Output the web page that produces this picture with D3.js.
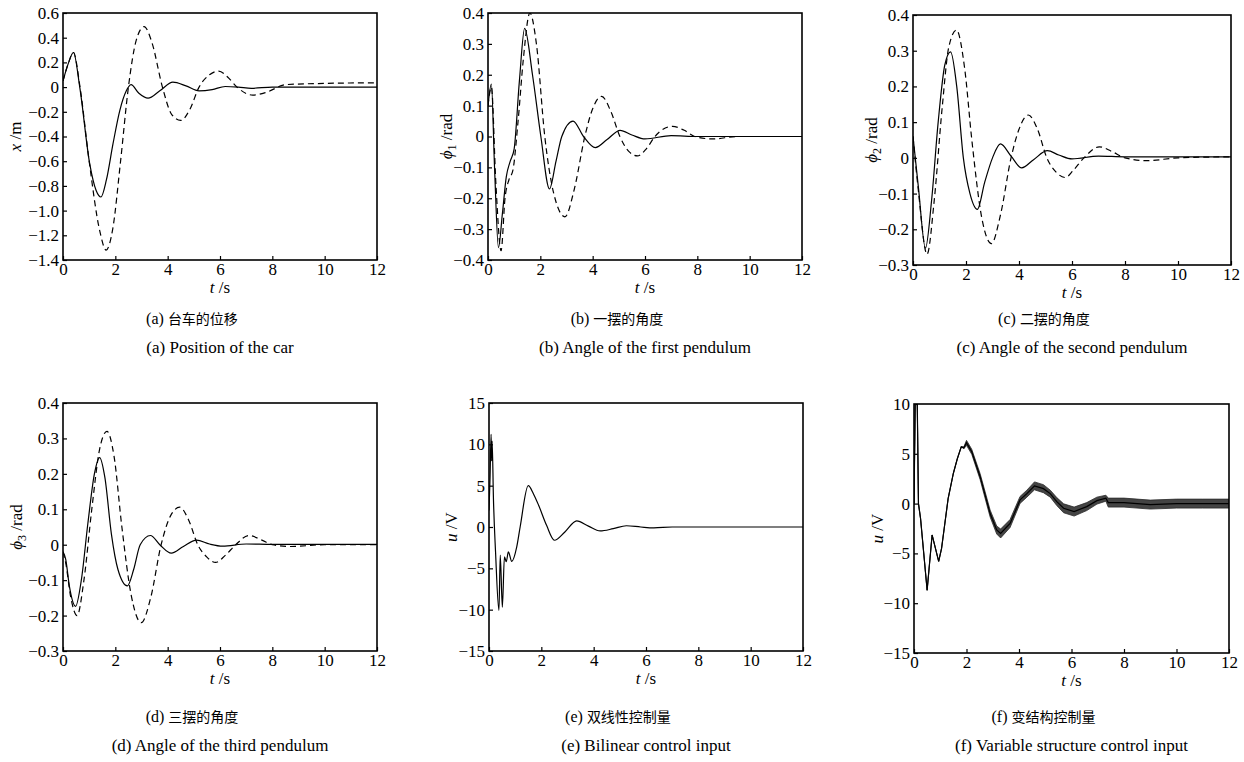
<!DOCTYPE html>
<html>
<head>
<meta charset="utf-8">
<script src="https://cdn.jsdelivr.net/npm/d3@7/dist/d3.min.js"></script>
<style>
  body { margin: 0; background: #fff; }
  svg text { font-family: "Liberation Serif", "DejaVu Serif", serif !important; fill: #000; }
  .tick text { font-size: 17px; }
  .tick line { stroke: #000; stroke-width: 1.2; }
  .frame { fill: none; stroke: #000; stroke-width: 1.6; }
  .line { fill: none; stroke: #000; stroke-width: 1.2; }
  .dash { stroke-dasharray: 6, 4; }
  svg text tspan.cn { font-family: "Noto Sans CJK SC", sans-serif !important; }
</style>
</head>
<body>
<svg id="chart" width="1244" height="762" font-family="Liberation Serif, serif"></svg>
<script>
// ---- data ----
var timeTicks = [0, 2, 4, 6, 8, 10, 12];

// (a) cart position x / m
var aSolidT = [0, 0.2, 0.4, 0.64, 1.02, 1.27, 1.45, 1.66, 1.91, 2.17, 2.42, 2.6, 2.9, 3.25, 3.7, 4.2, 4.7, 5.2, 5.7, 6.2, 6.7, 7.2, 8, 12];
var aSolidV = [0.05, 0.19, 0.28, 0, -0.62, -0.84, -0.89, -0.75, -0.46, -0.19, -0.03, 0.02, -0.05, -0.09, -0.03, 0.04, 0.01, -0.03, -0.02, 0.005, 0, -0.01, 0, 0];
var aDashT = [0, 0.2, 0.4, 0.65, 1.0, 1.4, 1.65, 1.9, 2.2, 2.5, 2.8, 3.1, 3.4, 3.8, 4.15, 4.5, 4.85, 5.2, 5.6, 5.95, 6.3, 6.65, 7.25, 7.8, 8.5, 10, 12];
var aDashV = [0.05, 0.19, 0.28, 0, -0.6, -1.16, -1.32, -1.15, -0.6, 0, 0.38, 0.49, 0.36, 0, -0.22, -0.27, -0.18, 0, 0.1, 0.13, 0.08, 0, -0.065, -0.04, 0.02, 0.03, 0.035];
var aTicks = [-1.4, -1.2, -1.0, -0.8, -0.6, -0.4, -0.2, 0, 0.2, 0.4, 0.6];

// (b) first pendulum angle / rad
var bSolidT = [0, 0.13, 0.25, 0.4, 0.55, 0.7, 0.85, 1.0, 1.2, 1.4, 1.7, 2.02, 2.35, 2.6, 2.82, 3.25, 3.65, 4.1, 4.55, 5.05, 5.5, 6.0, 7.0, 8, 12];
var bSolidV = [0.1, 0.17, -0.1, -0.36, -0.25, -0.13, -0.08, -0.04, 0.18, 0.35, 0.2, 0, -0.17, -0.08, 0, 0.05, 0, -0.036, -0.01, 0.02, 0.005, -0.008, 0.003, 0, 0];
var bDashT = [0, 0.13, 0.3, 0.5, 0.65, 0.8, 0.95, 1.15, 1.35, 1.6, 1.85, 2.17, 2.5, 2.94, 3.3, 3.7, 4.0, 4.34, 4.7, 5.04, 5.4, 5.71, 6.05, 6.38, 7.05, 7.5, 7.9, 8.6, 9.5, 12];
var bDashV = [0.1, 0.16, -0.15, -0.37, -0.2, -0.14, -0.11, 0.05, 0.25, 0.4, 0.3, 0, -0.18, -0.26, -0.17, 0, 0.09, 0.13, 0.08, 0, -0.05, -0.063, -0.04, 0, 0.033, 0.02, 0, -0.008, 0, 0];
var bTicks = [-0.4, -0.3, -0.2, -0.1, 0, 0.1, 0.2, 0.3, 0.4];

// (c) second pendulum angle / rad
var cSolidT = [0, 0.2, 0.47, 0.7, 0.95, 1.2, 1.42, 1.65, 1.9, 2.15, 2.43, 2.7, 3.0, 3.3, 3.7, 4.1, 4.55, 5.07, 5.5, 6.0, 7.0, 8, 12];
var cSolidV = [0.06, -0.08, -0.253, -0.12, 0.1, 0.26, 0.297, 0.2, 0, -0.1, -0.144, -0.07, 0, 0.039, 0.005, -0.028, -0.005, 0.02, 0.008, -0.003, 0.005, 0.003, 0.003];
var cDashT = [0, 0.2, 0.53, 0.8, 1.1, 1.35, 1.64, 1.95, 2.22, 2.6, 2.96, 3.3, 3.7, 4.0, 4.35, 4.7, 5.05, 5.4, 5.75, 6.05, 6.45, 7.03, 7.5, 8.0, 8.8, 10, 12];
var cDashV = [0.06, -0.09, -0.27, -0.12, 0.14, 0.31, 0.358, 0.25, 0.05, -0.17, -0.24, -0.16, 0, 0.08, 0.12, 0.08, 0, -0.04, -0.055, -0.035, 0, 0.031, 0.018, 0, -0.008, 0, 0.003];
var cTicks = [-0.3, -0.2, -0.1, 0, 0.1, 0.2, 0.3, 0.4];

// (d) third pendulum angle / rad
var dSolidT = [0, 0.1, 0.25, 0.48, 0.7, 0.95, 1.2, 1.4, 1.6, 1.85, 2.1, 2.46, 2.7, 2.95, 3.34, 3.7, 4.14, 4.6, 5.1, 5.6, 6.1, 7.0, 8, 12];
var dSolidV = [-0.02, -0.04, -0.12, -0.174, -0.1, 0.06, 0.2, 0.246, 0.19, 0.03, -0.07, -0.116, -0.07, 0, 0.026, 0, -0.024, -0.005, 0.013, 0.002, -0.004, 0.002, 0.001, 0.001];
var dDashT = [0, 0.1, 0.3, 0.54, 0.8, 1.1, 1.4, 1.68, 1.95, 2.25, 2.6, 2.99, 3.35, 3.75, 4.1, 4.46, 4.8, 5.15, 5.5, 5.83, 6.2, 6.6, 7.1, 7.6, 8.0, 8.7, 10, 12];
var dDashV = [-0.02, -0.05, -0.15, -0.2, -0.1, 0.1, 0.27, 0.32, 0.25, 0.05, -0.14, -0.22, -0.15, 0, 0.08, 0.106, 0.07, 0, -0.035, -0.05, -0.03, 0, 0.026, 0.013, 0, -0.005, 0, 0];
var dTicks = [-0.3, -0.2, -0.1, 0, 0.1, 0.2, 0.3, 0.4];

// (e) bilinear control input u / V
var eT = [0, 0.04, 0.08, 0.1, 0.12, 0.17, 0.25, 0.38, 0.43, 0.51, 0.59, 0.66, 0.74, 0.87, 1.06, 1.19, 1.5, 1.7, 1.9, 2.2, 2.5, 2.9, 3.35, 3.8, 4.25, 4.75, 5.25, 5.8, 6.3, 7, 8, 12];
var eV = [2, 6, 11.2, 8, 10.4, 3.4, -3, -10.1, -3.4, -9.7, -3.6, -4.2, -3.0, -4.15, -2.4, 0, 5.0, 4.0, 2.6, 0.2, -1.6, -0.6, 0.73, 0.1, -0.48, -0.2, 0.15, 0, -0.1, 0, 0, 0];
var eTicks = [-15, -10, -5, 0, 5, 10, 15];

// (f) variable structure control input u / V, with chattering band half-width
var fT = [0, 0.05, 0.12, 0.17, 0.25, 0.5, 0.69, 0.94, 1.05, 1.15, 1.3, 1.5, 1.65, 1.8, 1.9, 2.0, 2.2, 2.52, 2.9, 3.15, 3.3, 3.66, 4.04, 4.3, 4.59, 4.93, 5.19, 5.44, 5.7, 6.1, 6.58, 6.97, 7.31, 7.4, 8, 9, 10, 11, 12];
var fV = [0, 11, 11, 0, -1.5, -8.7, -3.15, -5.8, -4.5, -2.5, 0.5, 3.05, 4.5, 5.7, 5.6, 6.1, 5.2, 2.7, -1.0, -2.65, -3.0, -2.0, 0.37, 1.0, 1.78, 1.5, 1.0, 0.2, -0.47, -0.8, -0.3, 0.3, 0.54, 0.1, 0.1, -0.1, 0, 0, 0];
var fHalf = [0, 0, 0, 0, 0, 0, 0, 0, 0, 0, 0, 0, 0, 0, 0.1, 0.25, 0.25, 0.3, 0.35, 0.4, 0.45, 0.4, 0.35, 0.35, 0.4, 0.4, 0.35, 0.4, 0.45, 0.45, 0.4, 0.35, 0.3, 0.45, 0.45, 0.45, 0.45, 0.45, 0.45];
var fTicks = [-15, -10, -5, 0, 5, 10];

var captionsCn = ["(a) 台车的位移", "(b) 一摆的角度", "(c) 二摆的角度", "(d) 三摆的角度", "(e) 双线性控制量", "(f) 变结构控制量"];
var captionsEn = ["(a) Position of the car", "(b) Angle of the first pendulum", "(c) Angle of the second pendulum",
                  "(d) Angle of the third pendulum", "(e) Bilinear control input", "(f) Variable structure control input"];

function pts(t, v) { return t.map(function(d, i) { return {t: d, v: v[i]}; }); }

// ---- layout ----
var panels = [
  {x: 63,  y: 13,  w: 314, h: 247, dom: [-1.4, 0.6], ticks: aTicks, fmt: ".1f", lab: ["x", "", " /m"], labOff: -42,
   series: [{d: pts(aSolidT, aSolidV)}, {d: pts(aDashT, aDashV), dash: true}]},
  {x: 488, y: 13,  w: 314, h: 247, dom: [-0.4, 0.4], ticks: bTicks, fmt: ".1f", lab: ["\u03d5", "1", " /rad"], labOff: -36,
   series: [{d: pts(bSolidT, bSolidV)}, {d: pts(bDashT, bDashV), dash: true}]},
  {x: 913, y: 15,  w: 318, h: 250, dom: [-0.3, 0.4], ticks: cTicks, fmt: ".1f", lab: ["\u03d5", "2", " /rad"], labOff: -36,
   series: [{d: pts(cSolidT, cSolidV)}, {d: pts(cDashT, cDashV), dash: true}]},
  {x: 63,  y: 403, w: 314, h: 248, dom: [-0.3, 0.4], ticks: dTicks, fmt: ".1f", lab: ["\u03d5", "3", " /rad"], labOff: -41,
   series: [{d: pts(dSolidT, dSolidV)}, {d: pts(dDashT, dDashV), dash: true}]},
  {x: 489, y: 403, w: 314, h: 248, dom: [-15, 15], ticks: eTicks, fmt: "d", lab: ["u", "", " /V"], labOff: -32,
   series: [{d: pts(eT, eV)}]},
  {x: 914, y: 404, w: 315, h: 249, dom: [-15, 10], ticks: fTicks, fmt: "d", lab: ["u", "", " /V"], labOff: -31,
   series: [{d: pts(fT, fV), band: fHalf, linear: true}]}
];

var svg = d3.select("#chart");
var serif = "Liberation Serif, DejaVu Serif, serif";

panels.forEach(function(p, k) {
  var x = d3.scaleLinear().domain([0, 12]).range([p.x, p.x + p.w]);
  var y = d3.scaleLinear().domain(p.dom).range([p.y + p.h, p.y]);
  var g = svg.append("g").attr("font-family", serif);

  g.append("clipPath").attr("id", "clip" + k)
    .append("rect").attr("x", p.x).attr("y", p.y).attr("width", p.w).attr("height", p.h);

  var f = d3.format(p.fmt);
  g.append("g").attr("transform", "translate(" + p.x + ",0)")
    .call(d3.axisLeft(y).tickValues(p.ticks).tickSize(-4).tickSizeOuter(0).tickPadding(4)
      .tickFormat(function(v) { return Math.abs(v) < 1e-9 ? "0" : f(v); }))
    .call(function(s) { s.select(".domain").remove(); })
    .attr("font-family", serif).attr("font-size", 17);

  g.append("g").attr("transform", "translate(0," + (p.y + p.h) + ")")
    .call(d3.axisBottom(x).tickValues(timeTicks).tickSize(-4).tickSizeOuter(0).tickPadding(3))
    .call(function(s) { s.select(".domain").remove(); })
    .attr("font-family", serif).attr("font-size", 17);

  var plot = g.append("g").attr("clip-path", "url(#clip" + k + ")");

  p.series.forEach(function(s) {
    var line = d3.line().x(function(d) { return x(d.t); }).y(function(d) { return y(d.v); })
      .curve(s.linear ? d3.curveLinear : d3.curveMonotoneX);
    if (s.band) {
      var area = d3.area().x(function(d) { return x(d.t); })
        .y0(function(d, i) { return y(d.v - s.band[i]); })
        .y1(function(d, i) { return y(d.v + s.band[i]); })
        .curve(d3.curveLinear);
      plot.append("path").attr("d", area(s.d)).attr("fill", "#444").attr("stroke", "#2a2a2a").attr("stroke-width", 0.8);
    }
    plot.append("path").attr("class", "line" + (s.dash ? " dash" : "")).attr("d", line(s.d));
  });

  g.append("rect").attr("class", "frame").attr("x", p.x).attr("y", p.y).attr("width", p.w).attr("height", p.h);

  // axis titles
  var yl = g.append("text").attr("text-anchor", "middle").style("font-size", "17px")
    .attr("transform", "translate(" + (p.x + p.labOff) + "," + (p.y + p.h / 2) + ") rotate(-90)");
  yl.append("tspan").style("font-style", "italic").text(p.lab[0]);
  if (p.lab[1]) {
    yl.append("tspan").attr("dy", 4).style("font-size", "12px").text(p.lab[1]);
    yl.append("tspan").attr("dy", -4).text(p.lab[2]);
  } else {
    yl.append("tspan").text(p.lab[2]);
  }

  var xl = g.append("text").attr("text-anchor", "middle").style("font-size", "17px")
    .attr("x", p.x + p.w / 2).attr("y", p.y + p.h + 33);
  xl.append("tspan").style("font-style", "italic").text("t");
  xl.append("tspan").text(" /s");

  // captions
  var row = k < 3 ? 0 : 1;
  var cn = g.append("text").attr("text-anchor", "middle").attr("x", p.x + p.w / 2 - 28)
    .attr("y", row ? 722 : 324).style("font-size", "16px");
  var parts = captionsCn[k].split(" ");
  cn.append("tspan").text(parts[0] + " ");
  cn.append("tspan").attr("class", "cn").style("font-size", "14px").text(parts[1]);

  g.append("text").attr("text-anchor", "middle").attr("x", p.x + p.w / 2)
    .attr("y", row ? 751 : 353).style("font-size", "17px").text(captionsEn[k]);
});
</script>
</body>
</html>
